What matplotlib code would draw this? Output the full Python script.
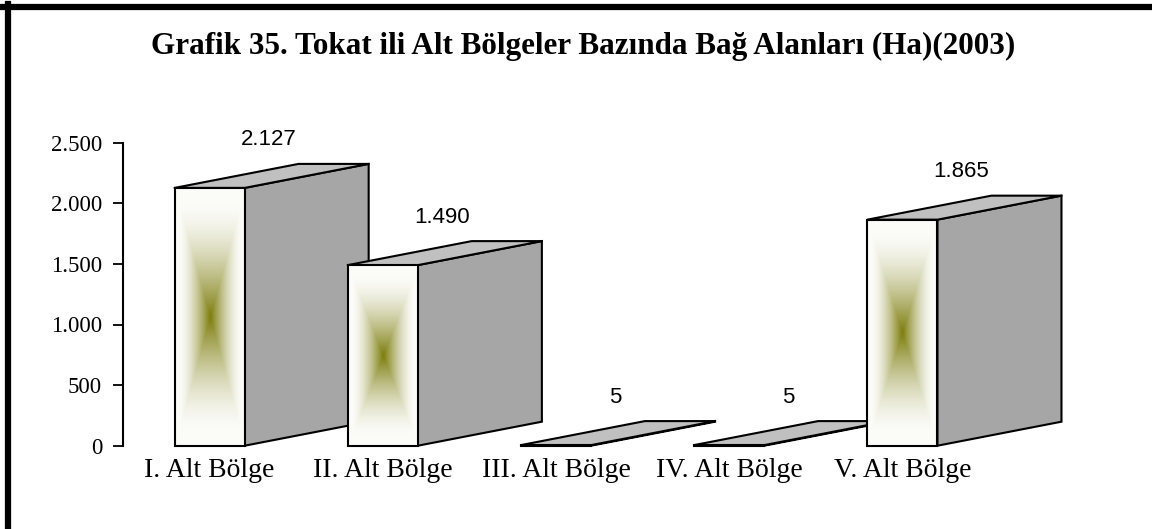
import numpy as np
import matplotlib.pyplot as plt
from matplotlib.patches import Polygon, Rectangle
from matplotlib.lines import Line2D

categories = ['I. Alt Bölge', 'II. Alt Bölge', 'III. Alt Bölge', 'IV. Alt Bölge', 'V. Alt Bölge']
values = [2127, 1490, 5, 5, 1865]
value_labels = ['2.127', '1.490', '5', '5', '1.865']
y_ticks = [0, 500, 1000, 1500, 2000, 2500]
y_tick_labels = ['0', '500', '1.000', '1.500', '2.000', '2.500']
title = 'Grafik 35. Tokat ili Alt Bölgeler Bazında Bağ Alanları (Ha)(2003)'

W, H = 1152, 529
DX, DY = 124, 24          # depth of the 3d boxes, pixels
BAR_W = 0.405             # front width, fraction of the slot
SIDE = '#a6a6a6'
TOP = '#c0c0c0'
OLIVE = np.array([0.49, 0.49, 0.05])
PAPER = np.array([0.985, 0.985, 0.975])


def front_gradient(n=120, m=300):
    u = np.abs(np.linspace(-1, 1, n))[None, :]
    v = np.abs(np.linspace(-1, 1, m))[:, None]
    t = np.maximum(u, v)
    a = np.clip(1 - t / 0.88, 0, 1) ** 1.6
    img = PAPER * (1 - a[..., None]) + OLIVE * a[..., None]
    return img


def main():
    fig = plt.figure(figsize=(W / 100, H / 100), dpi=100)
    ax = fig.add_axes([123 / W, (H - 445.7) / H, 866 / W, 303 / H])
    ax.set_autoscale_on(False)
    ax.set_xlim(-0.5, len(values) - 0.5)
    ax.set_ylim(0, 2500)

    def back(x, y):
        px, py = ax.transData.transform((x, y))
        return ax.transData.inverted().transform((px + DX, py + DY))

    img = front_gradient()
    for i, v in enumerate(values):
        z = 2 + i * 3
        x0, x1 = i - BAR_W / 2, i + BAR_W / 2
        side = [(x1, 0), (x1, v), back(x1, v), back(x1, 0)]
        top = [(x0, v), (x1, v), back(x1, v), back(x0, v)]
        ax.add_patch(Polygon(side, closed=True, facecolor=SIDE, edgecolor='black',
                             lw=1.5, zorder=z, clip_on=False))
        ax.add_patch(Polygon(top, closed=True, facecolor=TOP, edgecolor='black',
                             lw=1.5, zorder=z, clip_on=False, joinstyle='round'))
        ax.imshow(img, extent=(x0, x1, 0, v), aspect='auto', zorder=z + 1,
                  interpolation='bilinear', clip_on=False)
        ax.add_patch(Rectangle((x0, 0), BAR_W, v, fill=False, edgecolor='black',
                               lw=1.5, zorder=z + 2, clip_on=False))

        # value label above the top face
        lx, ly = ax.transData.transform((i, v))
        ax.text(lx + 59, ly + DY + 24, value_labels[i], transform=None,
                ha='center', va='center', fontsize=16, family='Liberation Sans',
                zorder=20)

    # Y axis
    ax.set_yticks(y_ticks)
    ax.set_yticklabels(y_tick_labels, family='Liberation Serif', fontsize=16.5)
    ax.tick_params(axis='y', direction='out', length=7, width=1.3, pad=8)
    for s in ['top', 'right', 'bottom']:
        ax.spines[s].set_visible(False)
    ax.spines['left'].set_linewidth(1.5)

    # X axis
    ax.set_xticks(range(len(categories)))
    ax.set_xticklabels(categories, family='Liberation Serif', fontsize=20)
    ax.tick_params(axis='x', length=0, pad=9)

    fig.text(583 / W, 1 - 46 / H, title, ha='center', va='center',
             family='Liberation Serif', fontweight='bold', fontsize=22.4)

    # frame
    fig.add_artist(Line2D([0, 1], [1 - 6.5 / H, 1 - 6.5 / H], color='black', lw=4.5))
    fig.add_artist(Line2D([7.5 / W, 7.5 / W], [0, 1 - 4 / H], color='black', lw=4.5))

    fig.savefig('out.png', dpi=100)


if __name__ == '__main__':
    main()
